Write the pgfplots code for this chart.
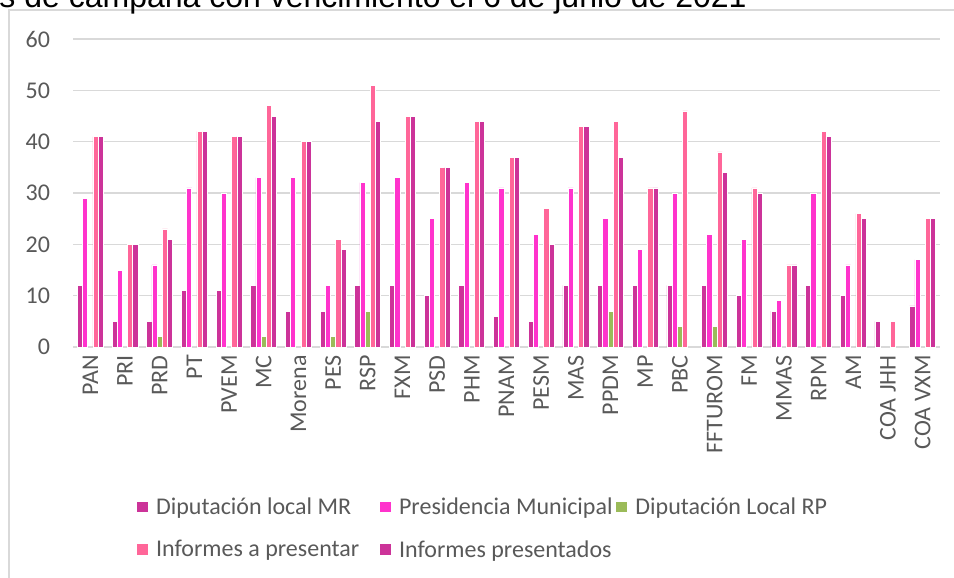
\documentclass[border=0pt]{standalone}
\usepackage{pgfplots}
\usepackage{pgfplotstable}
\pgfplotsset{compat=1.18}
\usepackage{fontspec}
\setmainfont{Carlito}
\newfontfamily\titlefont{Liberation Sans}
\definecolor{cMR}{HTML}{CC3399}
\definecolor{cPM}{HTML}{FF33CC}
\definecolor{cRP}{HTML}{9BBB59}
\definecolor{cIaP}{HTML}{FF6699}
\definecolor{cIP}{HTML}{CC3399}
\definecolor{txt}{HTML}{595959}
\definecolor{gridc}{HTML}{D9D9D9}

\pgfplotstableread{
x y
0 12
1 5
2 5
3 11
4 11
5 12
6 7
7 7
8 12
9 12
10 10
11 12
12 6
13 5
14 12
15 12
16 12
17 12
18 12
19 10
20 7
21 12
22 10
23 5
24 8
}\MR
\pgfplotstableread{
x y
0 29
1 15
2 16
3 31
4 30
5 33
6 33
7 12
8 32
9 33
10 25
11 32
12 31
13 22
14 31
15 25
16 19
17 30
18 22
19 21
20 9
21 30
22 16
24 17
}\PM
\pgfplotstableread{
x y
2 2
5 2
7 2
8 7
15 7
17 4
18 4
}\RP
\pgfplotstableread{
x y
0 41
1 20
2 23
3 42
4 41
5 47
6 40
7 21
8 51
9 45
10 35
11 44
12 37
13 27
14 43
15 44
16 31
17 46
18 38
19 31
20 16
21 42
22 26
23 5
24 25
}\IaP
\pgfplotstableread{
x y
0 41
1 20
2 21
3 42
4 41
5 45
6 40
7 19
8 44
9 45
10 35
11 44
12 37
13 20
14 43
15 37
16 31
18 34
19 30
20 16
21 41
22 25
24 25
}\IP

\begin{document}
\begin{tikzpicture}
\useasboundingbox (0pt,0pt) rectangle (715.5pt,-433.5pt);
\clip (0pt,0pt) rectangle (715.5pt,-433.5pt);
\draw[gridc, line width=1pt] (6.75pt,-450pt) -- (6.75pt,-7.5pt) -- (727.5pt,-7.5pt);
\node[anchor=base east, font=\titlefont\fontsize{24}{28}\selectfont, inner sep=0pt] at (560.25pt,-5.5pt) {Informes de ingresos y gastos de campaña con vencimiento el 6 de junio de 2021};
\begin{axis}[
  at={(54.75pt,-260.25pt)}, anchor=south west,
  scale only axis, width=650.25pt, height=231pt,
  xmin=-0.5, xmax=24.5, ymin=0, ymax=60,
  enlargelimits=false,
  xtick={0,...,24},
  xticklabels={PAN,PRI,PRD,PT,PVEM,MC,Morena,PES,RSP,FXM,PSD,PHM,PNAM,PESM,MAS,PPDM,MP,PBC,FFTUROM,FM,MMAS,RPM,AM,COA JHH,COA VXM},
  ytick={0,10,...,60},
  axis line style={draw=none},
  major tick length=0pt,
  ymajorgrids, grid style={gridc, line width=1pt},
  tick label style={font=\fontsize{18}{21.6}\selectfont, text=txt, inner sep=0pt},
  /pgf/number format/assume math mode=true,
  yticklabel shift=17pt,
  xticklabel shift=6pt,
  xticklabel style={rotate=90, anchor=east},
  legend columns=3,
  legend cell align=left,
  legend style={at={(0.069,-0.48)}, anchor=north west, draw=none, fill=none,
    font=\fontsize{18}{21.6}\selectfont, text=txt, nodes={inner sep=0pt},
    row sep=18pt},
  legend image code/.code={\fill[#1, draw=none] (0pt,-4pt) rectangle (8pt,4pt); \path (14pt,0pt);},
]
\addplot[ybar, bar width=0.15, bar shift=-0.3, fill=cMR, draw=white, line width=0.5pt] table {\MR};
\addlegendentry{\makebox[168pt][l]{Diputación local MR}}
\addplot[ybar, bar width=0.15, bar shift=-0.15, fill=cPM, draw=white, line width=0.5pt] table {\PM};
\addlegendentry{\makebox[163pt][l]{Presidencia Municipal}}
\addplot[ybar, bar width=0.15, bar shift=0, fill=cRP, draw=white, line width=0.5pt] table {\RP};
\addlegendentry{Diputación Local RP}
\addplot[ybar, bar width=0.15, bar shift=0.15, fill=cIaP, draw=white, line width=0.5pt] table {\IaP};
\addlegendentry{\makebox[168pt][l]{Informes a presentar}}
\addplot[ybar, bar width=0.15, bar shift=0.3, fill=cIP, draw=white, line width=0.5pt] table {\IP};
\addlegendentry{\makebox[163pt][l]{Informes presentados}}
\end{axis}
\end{tikzpicture}
\end{document}
